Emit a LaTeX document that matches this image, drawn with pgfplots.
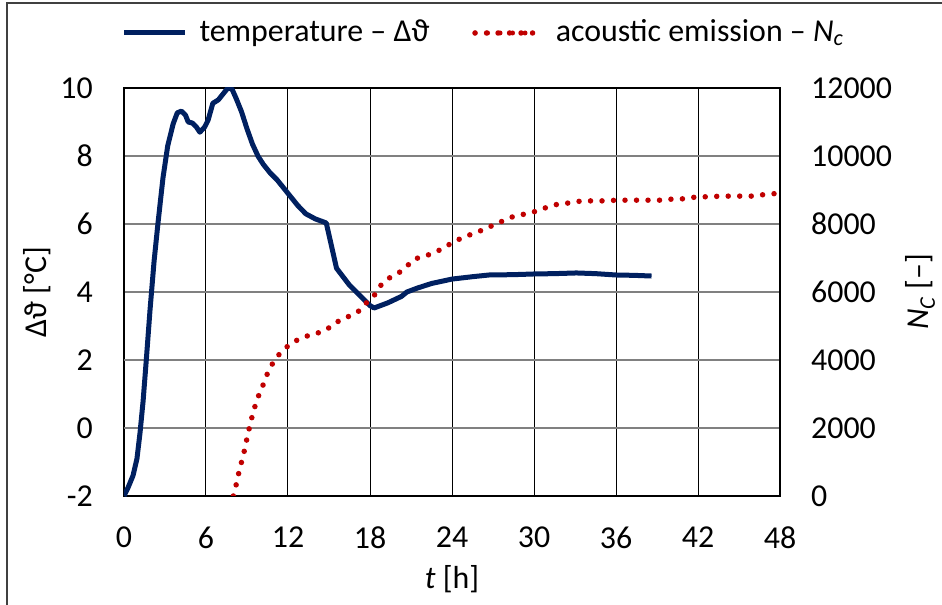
\documentclass[border=0pt]{standalone}
\usepackage{fontspec}
\setmainfont{Carlito}
\usepackage{pgfplots}
\pgfplotsset{compat=1.18}
\definecolor{tempblue}{RGB}{0,32,96}
\definecolor{aered}{RGB}{192,0,0}

\pgfplotstableread{
t dT
0 -2
0.3 -1.75
0.66 -1.4
0.95 -0.9
1.17 -0.15
1.4 0.8
1.65 2.1
1.9 3.45
2.2 4.9
2.48 6.0
2.85 7.35
3.2 8.3
3.6 8.95
3.9 9.27
4.2 9.32
4.5 9.2
4.7 9.0
5.0 8.97
5.3 8.85
5.55 8.7
5.9 8.85
6.15 9.05
6.5 9.55
6.9 9.65
7.3 9.85
7.6 10.0
7.9 9.97
8.2 9.7
8.6 9.3
9.0 8.8
9.4 8.35
9.8 8.0
10.2 7.75
10.7 7.5
11.2 7.3
11.7 7.05
12.1 6.85
12.7 6.55
13.3 6.3
14.0 6.15
14.8 6.03
15.1 5.5
15.55 4.7
16.5 4.2
17.3 3.88
18.0 3.6
18.3 3.53
19.3 3.68
20.3 3.87
20.7 4.0
21.5 4.12
22.5 4.25
24.0 4.38
25.5 4.45
26.7 4.5
28.5 4.51
30.0 4.53
31.5 4.54
33.1 4.56
34.5 4.54
36.0 4.5
37.3 4.49
38.6 4.47
}\temptable

\pgfplotstableread{
t Nc
8.0 0
8.2 320
8.4 680
8.6 1000
8.8 1320
9.0 1700
9.15 1970
9.35 2300
9.57 2620
9.85 2950
10.15 3240
10.45 3560
10.8 3850
11.25 4120
11.8 4350
12.4 4530
13.15 4680
13.95 4760
14.75 4880
15.3 5030
15.9 5200
16.7 5320
17.3 5470
17.8 5710
18.4 5940
18.8 6200
19.4 6410
20.1 6560
20.7 6760
21.25 6970
22.06 7060
22.85 7180
23.5 7330
24.25 7500
24.9 7620
25.7 7740
26.4 7850
27.2 8000
27.9 8120
28.6 8240
29.45 8300
30.2 8380
31.0 8500
31.8 8590
32.6 8620
33.5 8680
35.2 8680
36.0 8700
38.6 8700
39.4 8700
40.25 8740
41.1 8740
41.9 8800
42.8 8800
43.7 8820
46.2 8820
47.0 8880
48.0 8900
}\aetable

\begin{document}
\fontsize{32}{38}\selectfont
\begin{tikzpicture}
\useasboundingbox (-124bp,-109bp) rectangle (818bp,496bp);
\draw[black!75, line width=1.2bp] (-117bp,-130bp) -- (-117bp,493bp) -- (830bp,493bp);

\pgfplotsset{
  base/.style={
    width=656bp, height=408bp, scale only axis,
    at={(0,0)}, anchor=south west,
    xmin=0, xmax=48,
    major tick length=0pt,
    /pgf/number format/assume math mode=true,
    /pgf/number format/1000 sep={},
    scaled ticks=false,
    tick label style={font=\fontsize{32}{38}\selectfont},
    label style={font=\fontsize{32}{38}\selectfont, inner sep=0pt},
  },
}

\begin{axis}[base,
  ymin=-2, ymax=10,
  xtick={0,6,...,48},
  ytick={-2,4,6,8,10},
  extra y ticks={0,2},
  extra y tick style={grid style={black, line width=1bp}},
  grid=major,
  x grid style={black, line width=1bp},
  y grid style={black!50, line width=1.6bp},
  axis line style={black, line width=2.6bp},
  xticklabel style={inner sep=0pt, yshift=-31bp},
  yticklabel style={inner sep=0pt, xshift=-31bp},
  xlabel={\textit{t} [h]},
  xlabel style={at={(axis description cs:0.5,0)}, anchor=center, yshift=-83bp},
  ylabel={Δϑ [°C]},
  ylabel style={at={(axis description cs:-0.1326,0.5)}, anchor=center},
]
\addplot[tempblue, line width=5bp, line join=round] table[x=t, y=dT] {\temptable};
\end{axis}

\begin{axis}[base,
  ymin=0, ymax=12000,
  ytick={0,2000,...,12000},
  axis x line=none,
  axis y line*=right,
  axis line style={black, line width=2.6bp},
  yticklabel style={inner sep=0pt, xshift=31bp, anchor=west},
  ylabel={\textit{N}\textsubscript{\textit{C}} [–]},
  ylabel style={at={(axis description cs:1.214,0.5)}, anchor=center},
  legend columns=2,
  legend style={draw=none, fill=none,
    at={(axis description cs:0.5465,1.1348)}, anchor=center,
    font=\fontsize{32}{38}\selectfont,
    nodes={inner sep=0pt},
    /tikz/every odd column/.append style={column sep=12bp},
    /tikz/every even column/.append style={column sep=43bp}},
]
\addlegendimage{legend image code/.code={\draw[tempblue, line width=5bp] (0bp,0bp) -- (61bp,0bp);}}
\addlegendentry{temperature – Δϑ}
\addplot[aered, line width=5.5bp, line cap=round, dash pattern=on 0pt off 11.5bp,
  legend image code/.code={\draw[aered, line width=5bp, line cap=round, dash pattern=on 0pt off 12.5bp] (0bp,0bp) -- (51bp,0bp); \path (0bp,0bp) -- (66bp,0bp);}]
  table[x=t, y=Nc] {\aetable};
\addlegendentry{acoustic emission – \textit{N}\textsubscript{\textit{c}}}
\end{axis}
\end{tikzpicture}
\end{document}
